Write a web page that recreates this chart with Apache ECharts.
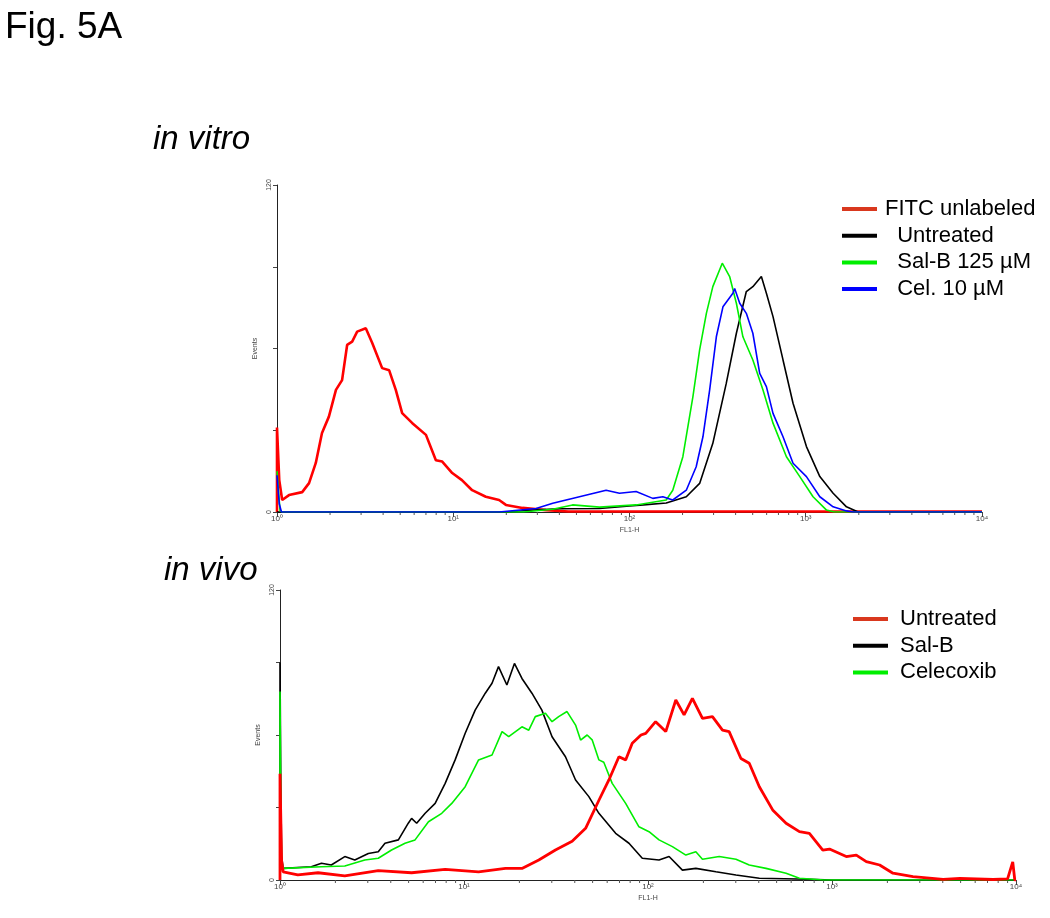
<!DOCTYPE html>
<html><head><meta charset="utf-8">
<script src="https://cdn.jsdelivr.net/npm/echarts/dist/echarts.min.js"></script>
<style>html,body{margin:0;padding:0;background:#fff}#c{width:1050px;height:918px}</style>
</head><body><div id="c"></div><script>
// ---- data (x = FL1-H, y = Events) ----
const yTicks = [0, 120];
const xDecades = [1, 10, 100, 1000, 10000];
const minorTicks = [2,3,4,5,6,7,8,9,20,30,40,50,60,70,80,90,200,300,400,500,600,700,800,900,2000,3000,4000,5000,6000,7000,8000,9000];

const vitroFitc = [[1,0],[1,31],[1.03,11.7],[1.07,4.4],[1.17,6.2],[1.39,7.3],[1.52,10.6],[1.66,18],[1.8,29],[1.97,35],[2.16,44.8],[2.34,48.4],[2.5,61.3],[2.67,62.5],[2.85,66.2],[3.19,67.4],[3.47,62],[3.95,52.8],[4.33,52],[4.72,44.8],[5.13,36.3],[5.84,32.7],[7.0,28.3],[7.97,19],[8.66,18.5],[9.87,14.3],[11.2,11.7],[12.8,8],[15.3,5.6],[18.2,4.4],[19.9,2.6],[24.7,1.5],[33.6,0.7],[45,0.2],[10000,0.2]];
const vitroUntreated = [[1,0],[20,0],[30,0.8],[40,1.2],[67.6,1.3],[100,2.2],[120,2.6],[161.6,3.3],[210,5.6],[250,10.5],[297,25.2],[354,47.2],[404,65.6],[460,80.9],[501,82.7],[560,86.4],[598,80.3],[652,71.7],[743,55.8],[847,39.9],[1009,24],[1202,13],[1430,6.9],[1702,1.9],[1983,0],[10000,0]];
const vitroSalB = [[1,15],[1.04,0.5],[1.07,0],[25,0],[36.7,1],[47.5,2.6],[67.6,1.8],[109,2.6],[161.6,4.4],[176,8],[200.8,20.3],[229,42.3],[250,59.5],[273,72.9],[297,82.7],[336,91.3],[370,86.4],[404,76.6],[440,64.3],[501,55.8],[572,44.8],[652,32.6],[777,20.3],[925,13],[1100,5.6],[1312,0.7],[1450,0],[10000,0]];
const vitroCel = [[1,13.5],[1.03,3],[1.06,0],[18.2,0],[29.5,1.3],[36.7,3.2],[52,5.6],[73.7,8],[87.7,6.9],[109,7.5],[135.6,5],[154.6,5.6],[176,4.4],[210,8],[239,16.6],[261,27.6],[285,44.8],[311,64.3],[339,75.3],[386,80.3],[395,82],[422,76.6],[460,72.9],[501,65.6],[548,50.9],[598,46],[652,36.2],[743,27.6],[847,17.9],[1009,13],[1202,5.6],[1430,1.9],[1702,0.4],[1850,0],[10000,0]];

const vivoUntreated = [[1,0],[1,44],[1.02,8],[1.04,3.4],[1.25,2.1],[1.61,3],[2.25,1.7],[3.42,3.9],[5.19,3],[7.9,4.4],[12.0,3.4],[16.8,4.8],[20.65,4.8],[25.5,8.3],[31.4,12.4],[38.7,16],[45.8,21.4],[54.1,33],[61.3,41.4],[69.5,51],[75.6,49.7],[82.1,56.6],[91.6,60],[97.2,60.7],[110,65.5],[124.9,61.4],[141.6,74.5],[157.1,68.3],[174.3,75.2],[197.7,66.9],[224,67.6],[254,62],[276,61.4],[320,50.3],[355,48.3],[402.7,38.6],[475.8,29],[562.8,23.5],[665,20],[753.6,19.3],[891,12.4],[969,12.8],[1195,9.7],[1355,10.3],[1536,7.6],[1815,6.2],[2145,2.8],[2756,1.4],[4017,0.3],[4955,0.7],[7516,0.2],[9000,0.5],[9600,7.5],[9850,0],[10000,0]];
const vivoSalB = [[1,0],[1,90],[1.01,40],[1.02,10],[1.04,4.8],[1.48,5.5],[1.68,6.9],[1.9,6.2],[2.25,9.7],[2.55,8.3],[3.02,11],[3.42,11.7],[3.72,15.2],[4.4,16.6],[4.98,23.5],[5.19,25.5],[5.53,23.5],[6.15,27.6],[6.97,31.7],[7.9,40],[8.95,49.7],[10.15,60.7],[11.5,70.3],[13.05,77.3],[14.2,81.4],[15.4,88.3],[17.1,80.7],[18.8,89.6],[20.65,83.4],[23.4,77.3],[26.5,70.3],[30.1,59.3],[35.6,51],[40.4,41.4],[47.7,34.5],[54.1,27.6],[66.7,19.3],[78.8,15.2],[93.1,9],[114.8,8.3],[130.2,9.7],[153.8,4.1],[182,4.8],[234,3.4],[300.6,2.1],[402.7,0.7],[753.6,0.3],[1000,0],[10000,0]];
const vivoCelecoxib = [[1,0],[1,78],[1.01,30],[1.02,8],[1.04,4.8],[1.68,5.5],[2.25,5.8],[2.89,8.3],[3.42,9],[4.04,12.4],[4.78,15.2],[5.42,16.6],[6.41,24.1],[7.57,27.6],[8.58,31.7],[10.15,38.6],[12.0,49.7],[14.2,51.7],[16.1,61.4],[17.5,59.3],[20.65,63.4],[22.5,62],[24.4,67.6],[27.7,69],[30.1,65.5],[32.7,67.6],[36.3,69.7],[40.4,64.1],[43.0,57.9],[46.7,60],[49.7,58],[54.1,49.7],[57.5,48.7],[63.9,40],[75.6,31.7],[89.3,22],[101.3,20],[114.8,16.6],[135.7,13.8],[160.6,10.3],[182,11.7],[197.7,8.6],[243.8,9.7],[300.6,8.6],[355,6.2],[437.8,4.8],[562.8,2.8],[665,0.7],[900,0],[10000,0]];

// ---- chart ----
const FONT = 'Liberation Sans, Arial, sans-serif';
const sup = {'0':'\u2070','1':'\u00b9','2':'\u00b2','3':'\u00b3','4':'\u2074'};
const chart = echarts.init(document.getElementById('c'), null, {renderer:'canvas'});

function xAxisCfg(gi){
  return {
    type:'log', logBase:10, min:xDecades[0], max:xDecades[xDecades.length-1], gridIndex:gi,
    name:'FL1-H', nameLocation:'middle', nameGap:15,
    nameTextStyle:{fontSize:7, color:'#444', fontFamily:FONT},
    axisLine:{lineStyle:{color:'#222', width:1}},
    axisTick:{show:true, length:5, lineStyle:{color:'#444'}},
    axisLabel:{fontSize:8, color:'#444', margin:3, fontFamily:FONT,
      formatter:v => '10' + sup[String(Math.round(Math.log10(v)))]},
    splitLine:{show:false}, minorTick:{show:false}
  };
}
function yAxisCfg(gi){
  return {
    type:'value', min:0, max:120, interval:30, gridIndex:gi,
    name:'Events', nameLocation:'middle', nameGap:17, nameRotate:90,
    nameTextStyle:{fontSize:7, color:'#444', fontFamily:FONT},
    axisLine:{show:true, lineStyle:{color:'#222', width:1}},
    axisTick:{show:true, length:4, lineStyle:{color:'#444'}},
    axisLabel:{fontSize:7, color:'#444', rotate:90, margin:4, fontFamily:FONT,
      formatter:v => yTicks.indexOf(v) >= 0 ? String(v) : ''},
    splitLine:{show:false}
  };
}
function minorSeries(gi){
  return {
    type:'custom', xAxisIndex:gi, yAxisIndex:gi, silent:true, clip:false, z:1,
    data:minorTicks.map(v => [v, 0]),
    renderItem:(params, api) => {
      const p = api.coord([api.value(0), 0]);
      return {type:'line', shape:{x1:p[0], y1:p[1], x2:p[0], y2:p[1]+3},
        style:{stroke:'#555', lineWidth:1}};
    }
  };
}
function line(name, data, color, width, gi){
  return {type:'line', name, data, xAxisIndex:gi, yAxisIndex:gi, showSymbol:false, symbol:'none',
    lineStyle:{color, width}, itemStyle:{color}, animation:false, clip:true};
}
const legendText = {fontSize:22, color:'#000', fontFamily:FONT, lineHeight:22};

chart.setOption({
  backgroundColor:'#fff',
  animation:false,
  title:[
    {text:'Fig. 5A', left:0, top:4, textStyle:{fontSize:37, fontWeight:'normal', color:'#000', fontFamily:FONT}},
    {text:'in vitro', left:148, top:118, textStyle:{fontSize:33, fontWeight:'normal', fontStyle:'italic', color:'#000', fontFamily:FONT}},
    {text:'in vivo', left:159, top:549, textStyle:{fontSize:33, fontWeight:'normal', fontStyle:'italic', color:'#000', fontFamily:FONT}}
  ],
  grid:[
    {left:277, right:68, top:185, bottom:406},
    {left:280, right:34, top:590, bottom:38}
  ],
  xAxis:[xAxisCfg(0), xAxisCfg(1)],
  yAxis:[yAxisCfg(0), yAxisCfg(1)],
  legend:[
    {orient:'vertical', left:837, top:193, itemWidth:35, itemHeight:4, itemGap:4.7, icon:'rect',
     selectedMode:false, textStyle:Object.assign({padding:[0,0,0,3]}, legendText),
     data:[
       {name:'FITC unlabeled', itemStyle:{color:'#d9381e'}},
       {name:'  Untreated'}, {name:'  Sal-B 125 \u00b5M'}, {name:'  Cel. 10 \u00b5M'}
     ]},
    {orient:'vertical', left:848, top:603, itemWidth:35, itemHeight:4, itemGap:4.7, icon:'rect',
     selectedMode:false, textStyle:Object.assign({padding:[0,0,0,7]}, legendText),
     data:[{name:'Untreated', itemStyle:{color:'#d9381e'}}, {name:'Sal-B'}, {name:'Celecoxib'}]}
  ],
  series:[
    minorSeries(0), minorSeries(1),
    line('FITC unlabeled', vitroFitc, '#ff0000', 2.6, 0),
    line('  Untreated', vitroUntreated, '#000000', 1.6, 0),
    line('  Sal-B 125 \u00b5M', vitroSalB, '#00ee00', 1.6, 0),
    line('  Cel. 10 \u00b5M', vitroCel, '#0000ff', 1.6, 0),
    line('Sal-B', vivoSalB, '#000000', 1.6, 1),
    line('Celecoxib', vivoCelecoxib, '#00ee00', 1.6, 1),
    line('Untreated', vivoUntreated, '#ff0000', 2.8, 1)
  ]
});
</script></body></html>
